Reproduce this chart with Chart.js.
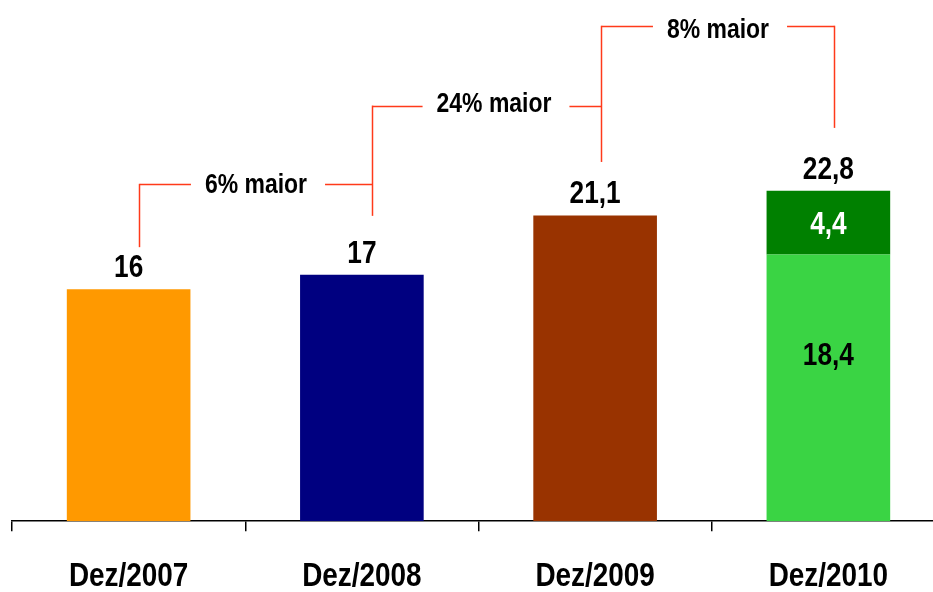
<!DOCTYPE html>
<html>
<head>
<meta charset="utf-8">
<script src="https://cdn.jsdelivr.net/npm/chart.js@4/dist/chart.umd.min.js"></script>
<style>
  html, body { margin: 0; padding: 0; background: #fff; overflow: hidden; }
  #wrap { width: 960px; height: 622px; position: relative; }
</style>
</head>
<body>
<div id="wrap"><canvas id="c"></canvas></div>
<script>
const categories = ['Dez/2007', 'Dez/2008', 'Dez/2009', 'Dez/2010'];
const baseValues = [16, 17, 21.1, 18.4];
const topValues = [null, null, null, 4.4];
const changeLabels = ['6% maior', '24% maior', '8% maior'];

const FONT = '"Liberation Sans", Arial, sans-serif';
const NARROW = 0.82; // emulate Arial Narrow
const barColors = ['#FF9900', '#000080', '#993300', '#3AD444'];
const topColor = '#008000';
const bracketColor = '#FF3A1A';

function fmt(v) {
  return String(Math.round(v * 10) / 10).replace('.', ',');
}

function narrowText(ctx, text, x, y) {
  ctx.save();
  ctx.translate(x, y);
  ctx.scale(NARROW, 1);
  ctx.fillText(text, 0, 0);
  ctx.restore();
}

// Category scale that draws its tick labels in a condensed face
class NarrowCategory extends Chart.CategoryScale {
  drawLabels(chartArea) {
    const ctx = this.ctx;
    const items = this.getLabelItems(chartArea);
    for (const item of items) {
      const o = item.options;
      ctx.save();
      ctx.font = item.font.string;
      ctx.fillStyle = o.color;
      ctx.textAlign = o.textAlign;
      ctx.textBaseline = o.textBaseline;
      ctx.translate(o.translation[0], o.translation[1]);
      ctx.scale(NARROW, 1);
      ctx.fillText(item.label, 0, item.textOffset);
      ctx.restore();
    }
  }
}
NarrowCategory.id = 'narrowCategory';
NarrowCategory.defaults = Chart.CategoryScale.defaults;
Chart.register(NarrowCategory);

const annotPlugin = {
  id: 'annot',
  afterDatasetsDraw(chart, args, opts) {
    const ctx = chart.ctx;
    const xs = chart.scales.x, ys = chart.scales.y;
    ctx.save();
    ctx.textAlign = 'center';
    ctx.font = 'bold ' + opts.valueSize + 'px ' + FONT;
    categories.forEach((c, i) => {
      const total = baseValues[i] + (topValues[i] || 0);
      const px = xs.getPixelForValue(i);
      const pyTop = ys.getPixelForValue(total);
      ctx.fillStyle = '#000';
      ctx.textBaseline = 'alphabetic';
      narrowText(ctx, fmt(total), px, pyTop - 12);
      if (topValues[i]) {
        const pyBase = ys.getPixelForValue(baseValues[i]);
        const py0 = ys.getPixelForValue(0);
        ctx.textBaseline = 'middle';
        ctx.fillStyle = '#fff';
        narrowText(ctx, fmt(topValues[i]), px, (pyTop + pyBase) / 2 + 2);
        ctx.fillStyle = '#000';
        narrowText(ctx, fmt(baseValues[i]), px, (pyBase + py0) / 2 - 32);
      }
    });
    // bracket legs
    const legX = i => Math.round(xs.getPixelForValue(i) + opts.legDx[i]) + 0.5;
    ctx.strokeStyle = bracketColor;
    ctx.lineWidth = 1.5;
    categories.forEach((c, i) => {
      let topLevel = -Infinity;
      if (i > 0) topLevel = Math.max(topLevel, opts.levels[i - 1]);
      if (i < changeLabels.length) topLevel = Math.max(topLevel, opts.levels[i]);
      ctx.beginPath();
      ctx.moveTo(legX(i), ys.getPixelForValue(topLevel));
      ctx.lineTo(legX(i), ys.getPixelForValue(opts.legEnds[i]));
      ctx.stroke();
    });
    // bracket tops with labels
    ctx.font = 'bold ' + opts.noteSize + 'px ' + FONT;
    ctx.textBaseline = 'alphabetic';
    ctx.fillStyle = '#000';
    changeLabels.forEach((t, k) => {
      const xl = legX(k), xr = legX(k + 1);
      const ly = Math.round(ys.getPixelForValue(opts.levels[k])) + 0.5;
      const w = ctx.measureText(t).width * NARROW;
      const cx = (xl + xr) / 2 + opts.textDx[k];
      ctx.beginPath();
      ctx.moveTo(xl, ly);
      ctx.lineTo(cx - w / 2 - 14, ly);
      ctx.moveTo(cx + w / 2 + 18, ly);
      ctx.lineTo(xr, ly);
      ctx.stroke();
      narrowText(ctx, t, cx, ly + opts.textDy[k]);
    });
    ctx.restore();
  }
};

new Chart(document.getElementById('c'), {
  type: 'bar',
  data: {
    labels: categories,
    datasets: [
      { data: baseValues, backgroundColor: barColors, borderWidth: 0,
        barPercentage: 0.53, categoryPercentage: 1 },
      { data: topValues, backgroundColor: topColor, borderWidth: 0,
        barPercentage: 0.53, categoryPercentage: 1 }
    ]
  },
  options: {
    responsive: true,
    maintainAspectRatio: false,
    animation: false,
    layout: { padding: { left: 12, right: 15, top: 14, bottom: 0 } },
    plugins: {
      legend: { display: false },
      tooltip: { enabled: false },
      annot: {
        valueSize: 32,
        noteSize: 28,
        legDx: [10.7, 10.6, 5.9, 5.9],
        levels: [23.28, 28.68, 34.19],
        legEnds: [18.91, 21.07, 24.79, 27.14],
        textDx: [0, 7, 0],
        textDy: [8, 5, 11]
      }
    },
    scales: {
      x: {
        type: 'narrowCategory',
        stacked: true,
        grid: { offset: true, drawOnChartArea: false, color: '#000', lineWidth: 1.5, tickLength: 10 },
        border: { color: '#000', width: 1.5 },
        ticks: { color: '#000', padding: 25, font: { family: FONT, size: 34, weight: 'bold' } }
      },
      y: { stacked: true, display: false, min: 0, max: 35 }
    }
  },
  plugins: [annotPlugin]
});
</script>
</body>
</html>
